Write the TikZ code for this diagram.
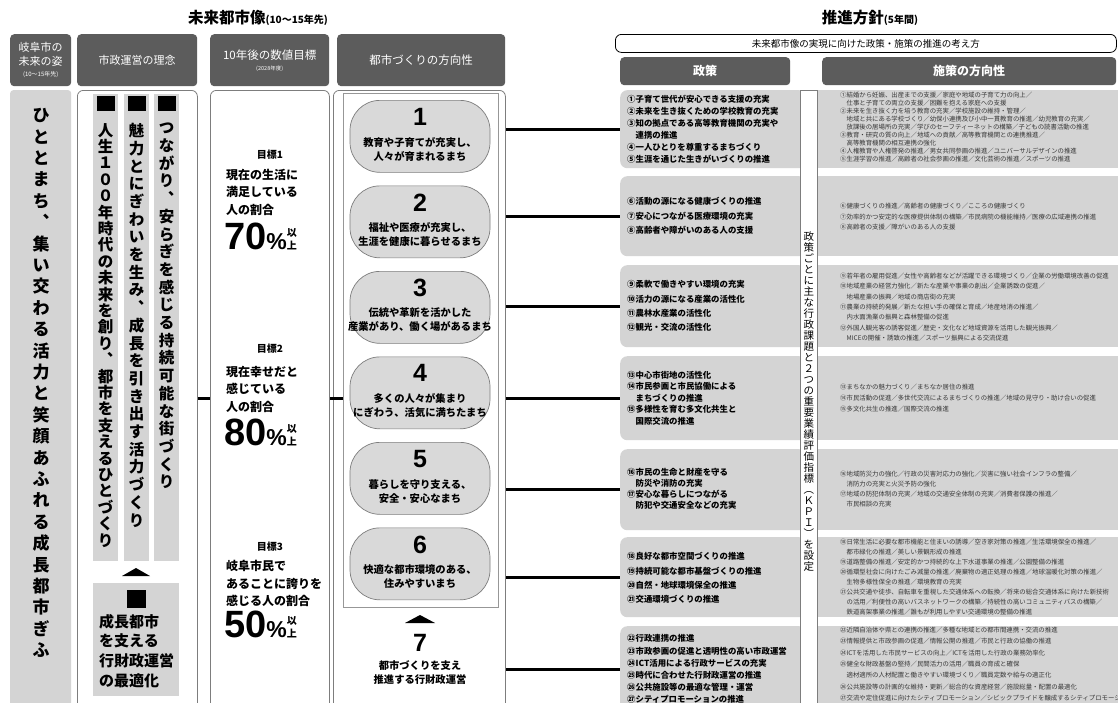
\documentclass[tikz,border=0pt]{standalone}
\usepackage{fontspec}
\setmainfont{Noto Sans CJK JP}
\newfontfamily\numfont{Liberation Sans}
\usepackage{tikz}
\usetikzlibrary{positioning}
\definecolor{hdrgray}{RGB}{92,92,92}
\definecolor{boxgray}{RGB}{212,212,212}
\definecolor{pillgray}{RGB}{217,217,217}
\definecolor{lineg}{RGB}{125,125,125}
\definecolor{dirgray}{RGB}{55,55,55}
\newcommand*{\polfont}[1]{\bfseries\fontsize{8.4}{#1}\selectfont}
\newcommand*{\dirfont}[1]{\fontsize{6.4}{#1}\selectfont}
\def\tateloop#1{\ifx#1\relax\else\hbox to 1em{\hss#1\hss}\expandafter\tateloop\fi}
\newcommand*{\tate}[2]{\vbox{\baselineskip=#1\lineskip=0pt\lineskiplimit=-100pt\tateloop#2\relax}}
\newcommand*{\ijou}{{\rmfamily\bfseries\fontsize{10}{10}\selectfont\shortstack{以\\上}}}

\begin{document}
\begin{tikzpicture}[x=1pt, y=-1pt]
	\tikzstyle{hdr}=[rectangle, rounded corners=4pt, fill=hdrgray, text=white, align=center,
	anchor=north west, inner sep=0pt]
	\tikzstyle{col}=[rectangle, rounded corners=6pt, draw=lineg, line width=0.8pt, fill=white,
	anchor=north west, inner sep=0pt]
	\tikzstyle{graybox}=[rectangle, fill=boxgray, anchor=north west, inner sep=0pt]
	\tikzstyle{policy}=[graybox, rounded corners=7pt, minimum width=186pt]
	\tikzstyle{measure}=[graybox, minimum width=310pt]
	\tikzstyle{sqmark}=[rectangle, fill=black, minimum width=18pt, minimum height=15pt, inner sep=0pt]
	\tikzstyle{ideatext}=[inner sep=0pt, font=\bfseries\fontsize{15.5}{18}\selectfont]
	\tikzstyle{goaltext}=[anchor=north west, inner sep=0pt, align=left, font=\bfseries\fontsize{12}{17.5}\selectfont]
	\tikzstyle{goalnum}=[anchor=base west, inner sep=0pt, font=\numfont\bfseries\fontsize{38}{40}\selectfont]
	\tikzstyle{goallabel}=[inner sep=0pt, font=\bfseries\fontsize{10}{12}\selectfont]
	\tikzstyle{pill}=[rectangle, rounded corners=30pt, draw=lineg, line width=0.7pt, fill=pillgray,
	minimum width=140pt, minimum height=72pt, anchor=north, inner sep=0pt]
	\tikzstyle{pillnum}=[inner sep=0pt, font=\numfont\bfseries\fontsize{25}{26}\selectfont]
	\tikzstyle{pilltext}=[inner sep=0pt, align=center, font=\bfseries\fontsize{10.3}{14}\selectfont]
	\tikzstyle{poltext}=[anchor=west, align=left, inner sep=0pt]
	\tikzstyle{dirtext}=[anchor=west, align=left, inner sep=0pt, text=dirgray]
	\tikzstyle{link}=[-, line width=2.6pt]
	\useasboundingbox (0,0) rectangle (1118,702);
	\clip (0,0) rectangle (1118,702);
	\fill[white] (0,0) rectangle (1118,702);

	\node (TitleL) [anchor=base, inner sep=0pt, font=\bfseries\fontsize{15.5}{18}\selectfont] at (258,23)
	{未来都市像{\fontsize{10}{12}\selectfont(10～15年先)}};
	\node (TitleR) [anchor=base, inner sep=0pt, font=\bfseries\fontsize{15.5}{18}\selectfont] at (870,23)
	{推進方針{\fontsize{10}{12}\selectfont(5年間)}};

	\node (VisionHd) [hdr, minimum width=61pt, minimum height=52pt, font=\fontsize{11}{14}\selectfont] at (10,34)
	{岐阜市の\\未来の姿\\[-3pt]{\fontsize{6}{7}\selectfont(10～15年先)}};
	\node (PhilHd) [hdr, minimum width=120pt, minimum height=52pt, font=\fontsize{11}{14}\selectfont] at (77,34)
	{市政運営の理念};
	\node (TargetHd) [hdr, minimum width=119pt, minimum height=52pt, font=\fontsize{11.5}{14}\selectfont] at (210,34)
	{10年後の数値目標\\[-3pt]{\fontsize{5.5}{7}\selectfont(2028年度)}};
	\node (CityHd) [hdr, minimum width=168pt, minimum height=52pt, font=\fontsize{11.5}{14}\selectfont] at (337,34)
	{都市づくりの方向性};
	\node (Concept) [rectangle, draw=black, rounded corners=6pt, line width=0.8pt, anchor=north west,
	minimum width=501pt, minimum height=18pt, inner sep=0pt, font=\fontsize{9.5}{11}\selectfont] at (615,34)
	{未来都市像の実現に向けた政策・施策の推進の考え方};
	\node (PolicyHd) [hdr, minimum width=170pt, minimum height=28pt, font=\bfseries\fontsize{12}{14}\selectfont] at (620,57) {政策};
	\node (MeasureHd) [hdr, minimum width=294pt, minimum height=28pt, font=\bfseries\fontsize{12}{14}\selectfont] at (822,57) {施策の方向性};

	\node (VisionCol) [graybox, rounded corners=3pt, minimum width=61pt, minimum height=622pt] at (10,90) {};
	\node (PhilCol) [col, minimum width=120pt, minimum height=622pt] at (77,90) {};
	\node (TargetCol) [col, minimum width=119pt, minimum height=622pt] at (210,90) {};
	\node (CityCol) [col, minimum width=172pt, minimum height=622pt] at (333,90) {};
	\node (CityFrame) [rectangle, draw=lineg!80, line width=0.5pt, anchor=north west,
	minimum width=155pt, minimum height=514pt, inner sep=0pt] at (343,93) {};

	\node (VisionTxt) [inner sep=0pt, font=\bfseries\fontsize{17}{20}\selectfont] at (41,383)
	{\tate{21.4pt}{ひととまち︑集い交わる活力と笑顔あふれる成長都市ぎふ}};

	\node (StripA) [graybox, minimum width=25pt, minimum height=467pt] at (93,94) {};
	\node (StripB) [graybox, minimum width=25pt, minimum height=467pt] at (124,94) {};
	\node (StripC) [graybox, minimum width=25pt, minimum height=467pt] at (154,94) {};
	\node (SqA) [sqmark, below=2pt of StripA.north] {};
	\node (SqB) [sqmark, below=2pt of StripB.north] {};
	\node (SqC) [sqmark, below=2pt of StripC.north] {};
	\node (IdeaA) [ideatext, below=29pt of StripA.north] {\tate{16.4pt}{人生１００年時代の未来を創り︑都市を支えるひとづくり}};
	\node (IdeaB) [ideatext, below=29pt of StripB.north] {\tate{17.7pt}{魅力とにぎわいを生み︑成長を引き出す活力づくり}};
	\node (IdeaC) [ideatext, below=29pt of StripC.north] {\tate{17.7pt}{つながり︑安らぎを感じる持続可能な街づくり}};
	\fill (122,576) -- (150,576) -- (136,568) -- cycle;
	\node (BaseBox) [graybox, minimum width=86pt, minimum height=113pt] at (93,583) {};
	\node (SqBase) [sqmark, minimum width=19pt, minimum height=18pt, below=7pt of BaseBox.north] {};
	\node (BaseTxt) [anchor=north west, inner sep=0pt, align=left, font=\bfseries\fontsize{15}{19.7}\selectfont] at (99,614)
	{成長都市\\を支える\\行財政運営\\の最適化};

	\node (GoalA) [goallabel] at (270,155) {目標1};
	\node (GoalAtxt) [goaltext] at (226,169) {現在の生活に\\満足している\\人の割合};
	\node (GoalAnum) [goalnum] at (224,249) {70{\fontsize{23}{24}\selectfont\%}\ijou};
	\node (GoalB) [goallabel] at (270,349) {目標2};
	\node (GoalBtxt) [goaltext] at (226,366) {現在幸せだと\\感じている\\人の割合};
	\node (GoalBnum) [goalnum] at (224,445) {80{\fontsize{23}{24}\selectfont\%}\ijou};
	\node (GoalC) [goallabel] at (270,547) {目標3};
	\node (GoalCtxt) [goaltext] at (226,560) {岐阜市民で\\あることに誇りを\\感じる人の割合};
	\node (GoalCnum) [goalnum] at (224,637) {50{\fontsize{23}{24}\selectfont\%}\ijou};

	\node (PillA) [pill] at (420,100) {};
	\node (NumA) [pillnum, below=8pt of PillA.north] {1};
	\node (TxtA) [pilltext, above=11.5pt of PillA.south] {教育や子育てが充実し、\\人々が育まれるまち};
	\node (PillB) [pill] at (420,185.5) {};
	\node (NumB) [pillnum, below=8pt of PillB.north] {2};
	\node (TxtB) [pilltext, above=11.5pt of PillB.south] {福祉や医療が充実し、\\生涯を健康に暮らせるまち};
	\node (PillC) [pill] at (420,271) {};
	\node (NumC) [pillnum, below=8pt of PillC.north] {3};
	\node (TxtC) [pilltext, above=11.5pt of PillC.south] {伝統や革新を活かした\\産業があり、働く場があるまち};
	\node (PillD) [pill] at (420,356.5) {};
	\node (NumD) [pillnum, below=8pt of PillD.north] {4};
	\node (TxtD) [pilltext, above=11.5pt of PillD.south] {多くの人々が集まり\\にぎわう、活気に満ちたまち};
	\node (PillE) [pill] at (420,442) {};
	\node (NumE) [pillnum, below=8pt of PillE.north] {5};
	\node (TxtE) [pilltext, above=11.5pt of PillE.south] {暮らしを守り支える、\\安全・安心なまち};
	\node (PillF) [pill] at (420,527.5) {};
	\node (NumF) [pillnum, below=8pt of PillF.north] {6};
	\node (TxtF) [pilltext, above=11.5pt of PillF.south] {快適な都市環境のある、\\住みやすいまち};
	\fill (405,623) -- (435,623) -- (420,615) -- cycle;
	\node (NumG) [pillnum] at (420,643) {7};
	\node (TxtG) [pilltext] at (420,673) {都市づくりを支え\\推進する行財政運営};

	\node (PolicyA) [policy, minimum height=78pt] at (620,90) {};
	\node (PolicyB) [policy, minimum height=80pt] at (620,176) {};
	\node (PolicyC) [policy, minimum height=82pt] at (620,265) {};
	\node (PolicyD) [policy, minimum height=84pt] at (620,356) {};
	\node (PolicyE) [policy, minimum height=81pt] at (620,449) {};
	\node (PolicyF) [policy, minimum height=80pt] at (620,537) {};
	\node (PolicyG) [policy, minimum height=86pt] at (620,626) {};
	\node (MeasureA) [measure, minimum height=78pt] at (817,90) {};
	\node (MeasureB) [measure, minimum height=80pt] at (817,176) {};
	\node (MeasureC) [measure, minimum height=82pt] at (817,265) {};
	\node (MeasureD) [measure, minimum height=84pt] at (817,356) {};
	\node (MeasureE) [measure, minimum height=81pt] at (817,449) {};
	\node (MeasureF) [measure, minimum height=80pt] at (817,537) {};
	\node (MeasureG) [measure, minimum height=86pt] at (817,626) {};
	\node (KPI) [rectangle, fill=white, draw=lineg, line width=0.6pt, anchor=north west,
	minimum width=17pt, minimum height=622pt, inner sep=0pt] at (800,90) {};
	\node (KPItxt) [inner sep=0pt, font=\fontsize{10.5}{11}\selectfont, below=141pt of KPI.north]
	{\tate{11pt}{政策ごとに主な行政課題と２つの重要業績評価指標︵ＫＰＩ︶を設定}};

	\node (PolTxtA) [poltext, font=\polfont{12}] at (627,129)
	{①子育て世代が安心できる支援の充実\\②未来を生き抜くための学校教育の充実\\③知の拠点である高等教育機関の充実や\\　連携の推進\\④一人ひとりを尊重するまちづくり\\⑤生涯を通じた生きがいづくりの推進};
	\node (PolTxtB) [poltext, font=\polfont{14.5}] at (627,216)
	{⑥活動の源になる健康づくりの推進\\⑦安心につながる医療環境の充実\\⑧高齢者や障がいのある人の支援};
	\node (PolTxtC) [poltext, font=\polfont{14.3}] at (627,306)
	{⑨柔軟で働きやすい環境の充実\\⑩活力の源になる産業の活性化\\⑪農林水産業の活性化\\⑫観光・交流の活性化};
	\node (PolTxtD) [poltext, font=\polfont{11.5}] at (627,398)
	{⑬中心市街地の活性化\\⑭市民参画と市民協働による\\　まちづくりの推進\\⑮多様性を育む多文化共生と\\　国際交流の推進};
	\node (PolTxtE) [poltext, font=\polfont{11}] at (627,489)
	{⑯市民の生命と財産を守る\\　防災や消防の充実\\⑰安心な暮らしにつながる\\　防犯や交通安全などの充実};
	\node (PolTxtF) [poltext, font=\polfont{14.3}] at (627,578)
	{⑱良好な都市空間づくりの推進\\⑲持続可能な都市基盤づくりの推進\\⑳自然・地球環境保全の推進\\㉑交通環境づくりの推進};
	\node (PolTxtG) [poltext, anchor=north west, font=\polfont{12.2}] at (627,634.5)
	{㉒行政連携の推進\\㉓市政参画の促進と透明性の高い市政運営\\㉔ICT活用による行政サービスの充実\\㉕時代に合わせた行財政運営の推進\\㉖公共施設等の最適な管理・運営\\㉗シティプロモーションの推進};

	\node (DirTxtA) [dirtext, font=\dirfont{8}] at (840,127)
	{①結婚から妊娠、出産までの支援／家庭や地域の子育て力の向上／\\　仕事と子育ての両立の支援／困難を抱える家庭への支援\\②未来を生き抜く力を培う教育の充実／学校施設の維持・管理／\\　地域と共にある学校づくり／幼保小連携及び小中一貫教育の推進／幼児教育の充実／\\　放課後の居場所の充実／学びのセーフティーネットの構築／子どもの読書活動の推進\\③教育・研究の質の向上／地域への貢献／高等教育機関との連携推進／\\　高等教育機関の相互連携の強化\\④人権教育や人権啓発の推進／男女共同参画の推進／ユニバーサルデザインの推進\\⑤生涯学習の推進／高齢者の社会参画の推進／文化芸術の推進／スポーツの推進};
	\node (DirTxtB) [dirtext, font=\dirfont{10.5}] at (840,217)
	{⑥健康づくりの推進／高齢者の健康づくり／こころの健康づくり\\⑦効率的かつ安定的な医療提供体制の構築／市民病院の機能維持／医療の広域連携の推進\\⑧高齢者の支援／障がいのある人の支援};
	\node (DirTxtC) [dirtext, font=\dirfont{10.3}] at (840,307)
	{⑨若年者の雇用促進／女性や高齢者などが活躍できる環境づくり／企業の労働環境改善の促進\\⑩地域産業の経営力強化／新たな産業や事業の創出／企業誘致の促進／\\　地場産業の振興／地域の商店街の充実\\⑪農業の持続的発展／新たな担い手の確保と育成／地産地消の推進／\\　内水面漁業の振興と森林整備の促進\\⑫外国人観光客の誘客促進／歴史・文化など地域資源を活用した観光振興／\\　MICEの開催・誘致の推進／スポーツ振興による交流促進};
	\node (DirTxtD) [dirtext, font=\dirfont{11}] at (840,398)
	{⑬まちなかの魅力づくり／まちなか居住の推進\\⑭市民活動の促進／多世代交流によるまちづくりの推進／地域の見守り・助け合いの促進\\⑮多文化共生の推進／国際交流の推進};
	\node (DirTxtE) [dirtext, font=\dirfont{10.3}] at (840,489)
	{⑯地域防災力の強化／行政の災害対応力の強化／災害に強い社会インフラの整備／\\　消防力の充実と火災予防の強化\\⑰地域の防犯体制の充実／地域の交通安全体制の充実／消費者保護の推進／\\　市民相談の充実};
	\node (DirTxtF) [dirtext, font=\dirfont{10}] at (840,577)
	{⑱日常生活に必要な都市機能と住まいの誘導／空き家対策の推進／生活環境保全の推進／\\　都市緑化の推進／美しい景観形成の推進\\⑲道路整備の推進／安定的かつ持続的な上下水道事業の推進／公園整備の推進\\⑳循環型社会に向けたごみ減量の推進／廃棄物の適正処理の推進／地球温暖化対策の推進／\\　生物多様性保全の推進／環境教育の充実\\㉑公共交通や徒歩、自転車を重視した交通体系への転換／将来の総合交通体系に向けた新技術\\　の活用／利便性の高いバスネットワークの構築／持続性の高いコミュニティバスの構築／\\　鉄道高架事業の推進／誰もが利用しやすい交通環境の整備の推進};
	\node (DirTxtG) [dirtext, anchor=north west, font=\dirfont{11.3}] at (840,627)
	{㉒近隣自治体や県との連携の推進／多種な地域との都市間連携・交流の推進\\㉓情報提供と市政参画の促進／情報公開の推進／市民と行政の協働の推進\\㉔ICTを活用した市民サービスの向上／ICTを活用した行政の業務効率化\\㉕健全な財政基盤の堅持／民間活力の活用／職員の育成と確保\\　適材適所の人材配置と働きやすい環境づくり／職員定数や給与の適正化\\㉖公共施設等の計画的な維持・更新／総合的な資産経営／施設総量・配置の最適化\\㉗交流や定住促進に向けたシティプロモーション／シビックプライドを醸成するシティプロモーション};

	\draw[link] (PolicyA.west -| CityCol.east) -- (PolicyA.west);
	\draw[link] (PolicyB.west -| CityCol.east) -- (PolicyB.west);
	\draw[link] (PolicyC.west -| CityCol.east) -- (PolicyC.west);
	\draw[link] (PolicyD.west -| CityCol.east) -- (PolicyD.west);
	\draw[link] (PolicyE.west -| CityCol.east) -- (PolicyE.west);
	\draw[link] (PolicyF.west -| CityCol.east) -- (PolicyF.west);
	\draw[link] (PolicyG.west -| CityCol.east) -- (PolicyG.west);
	\draw[link] (PhilCol.east |- PolicyD.west) -- (TargetCol.west |- PolicyD.west);
	\draw[link] (TargetCol.east |- PolicyD.west) -- (CityFrame.west |- PolicyD.west);
\end{tikzpicture}
\end{document}
